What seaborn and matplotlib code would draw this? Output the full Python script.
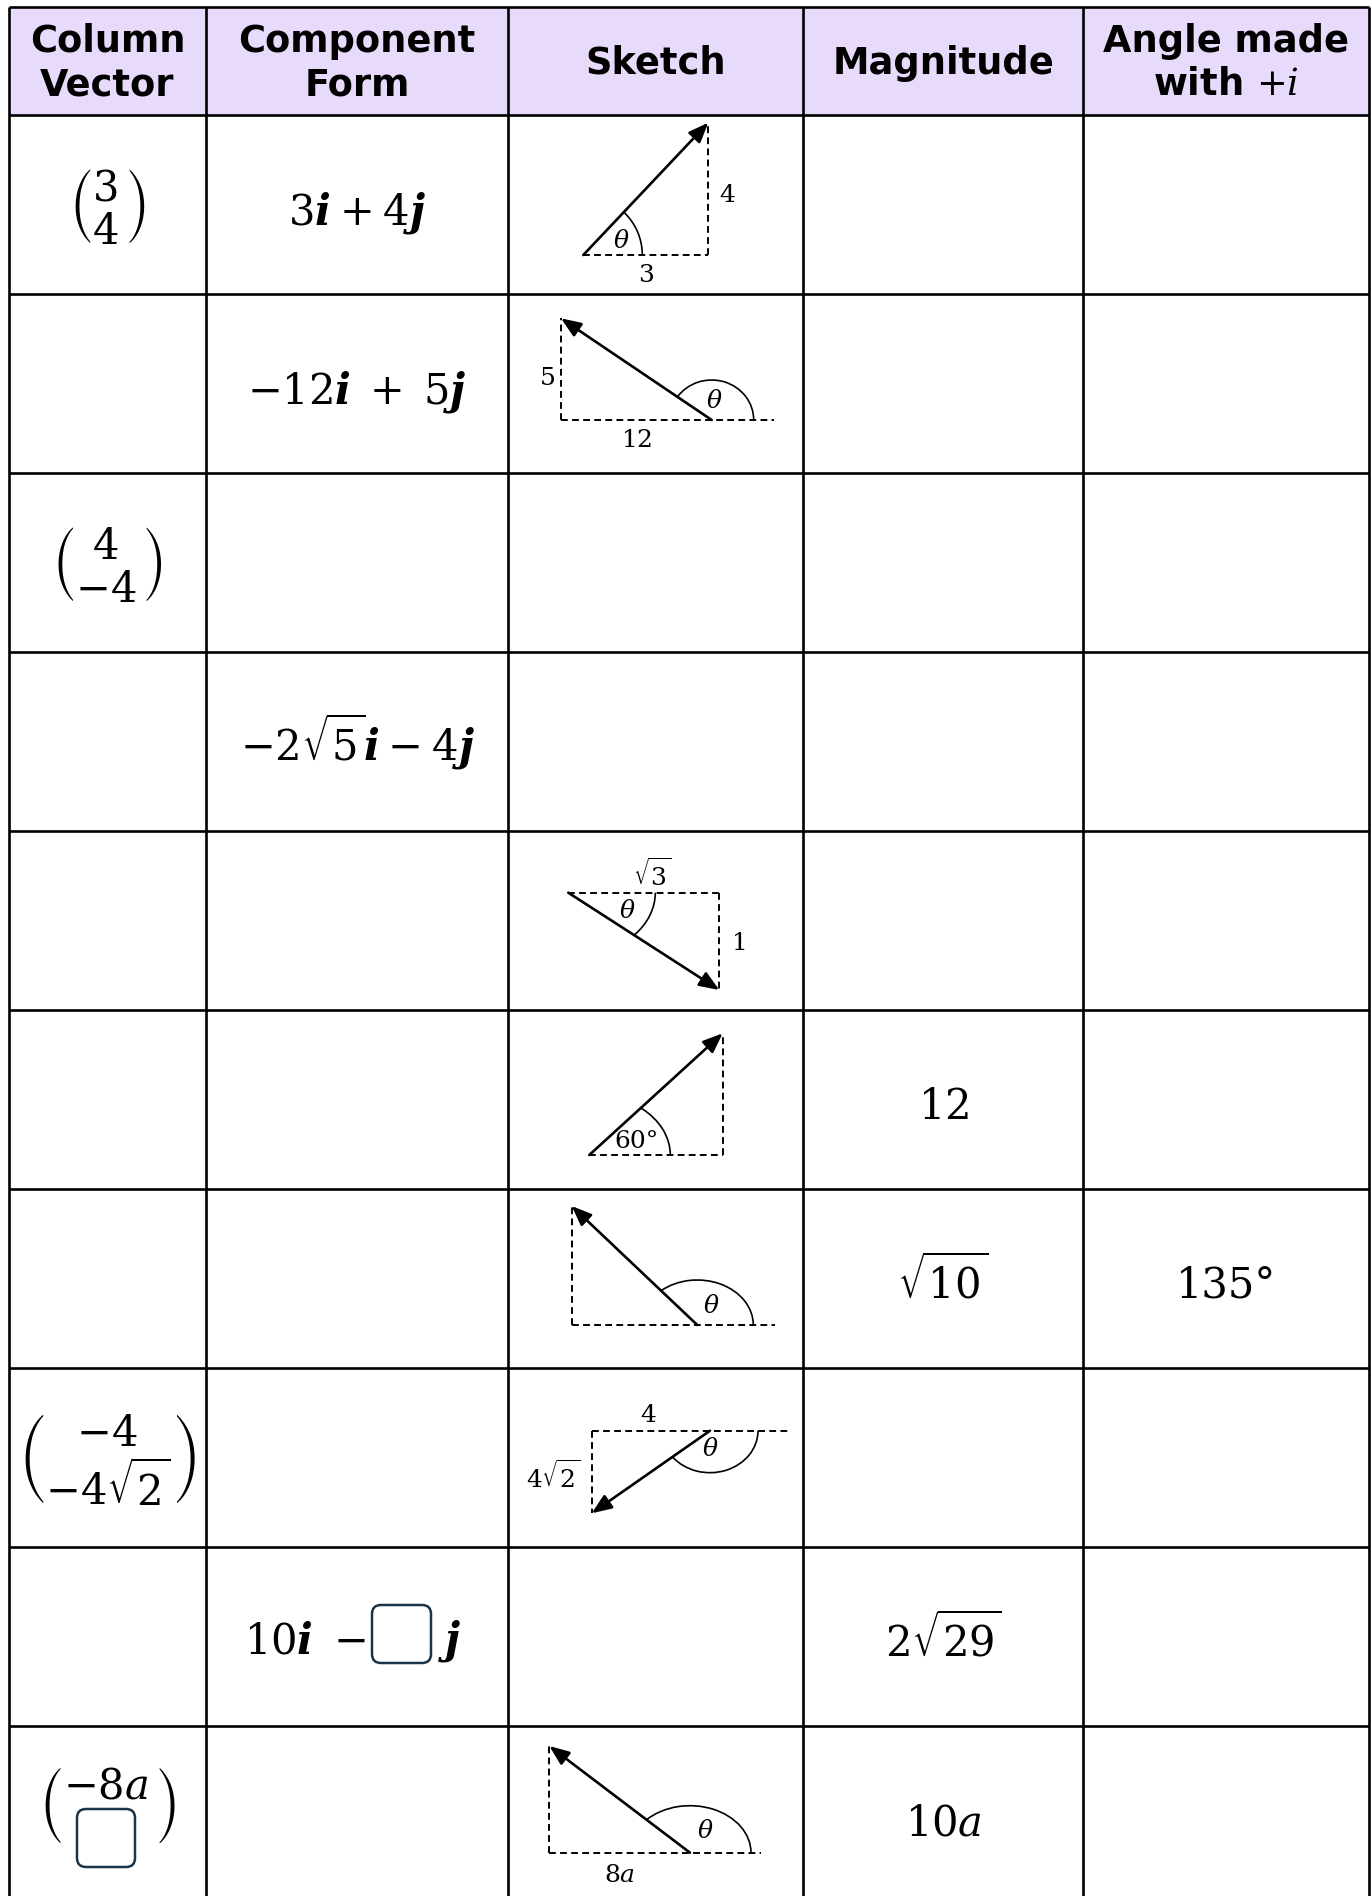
import matplotlib
matplotlib.use("Agg")
import numpy as np
import matplotlib.pyplot as plt
import seaborn as sns
from matplotlib.patches import Arc, FancyBboxPatch, Rectangle

# table grid, in pixels of the 1372 x 1896 sheet
col_edges = [9, 206, 508, 803, 1083, 1369]
row_edges = [7, 115, 293.5, 472.5, 651.5, 830.5, 1009.5, 1188.5, 1367.5, 1546.5, 1725.5, 1904.5]

headers = ["Column\nVector", "Component\nForm", "Sketch", "Magnitude", "Angle made\nwith $+i$"]

column_vector = [r"$\genfrac{(}{)}{0}{0}{3}{4}$", "", r"$\genfrac{(}{)}{0}{0}{4}{-4}$", "", "", "", "",
                 r"$\genfrac{(}{)}{0}{0}{-4}{-4\sqrt{2}}$", "", r"$\genfrac{(}{)}{0}{0}{-8a}{8}$"]
component_form = [r"$3\mathbfit{i}\:+\:4\mathbfit{j}$", r"$-12\mathbfit{i}\;+\;5\mathbfit{j}$", "",
                  r"$-2\sqrt{5}\mathbfit{i}\:-\:4\mathbfit{j}$", "", "", "", "", "", ""]
magnitude = ["", "", "", "", "", "$12$", r"$\sqrt{10}$", "", r"$2\sqrt{29}$", "$10a$"]
angle_with_i = ["", "", "", "", "", "", "135°", "", "", ""]

# sketches: vector tail / tip inside the sketch cell (x from cell left, y down from cell top)
sketch_rows = [0, 1, 4, 5, 6, 7, 9]
sketch_tail = [(75.3, 140), (203.7, 126.5), (60.3, 62.2), (81.3, 145.5), (189.3, 136.5), (202, 63.2), (182, 127.2)]
sketch_tip = [(200.3, 7.7), (53, 24.8), (211.3, 159.5), (214.7, 23.8), (63.7, 17.5), (83.7, 145.8), (41.3, 20.5)]
sketch_ext = [0, 62, 0, 0, 78, 78, 71]
arc_rx = [59, 42, 87, 81, 56, 48, 61]
arc_ry = [59, 40, 65, 61, 45, 42, 47]
TH = r"$\theta$"
sketch_labels = [
    [("$4$", 219, 80), ("$3$", 138, 160), (TH, 113, 126)],
    [("$5$", 39, 84.5), ("$12$", 129, 146.5), (TH, 206, 108)],
    [(TH, 119, 81), (r"$\sqrt{3}$", 144, 44.5), ("$1$", 230, 113)],
    [("60°", 129, 132)],
    [(TH, 203, 118)],
    [(TH, 202, 82.5), ("$4$", 140, 47.5), (r"$4\sqrt{2}$", 45, 109)],
    [(TH, 197, 106), ("$8a$", 112, 149.5)],
]

sns.set_theme(style="white")
plt.rcParams["font.family"] = ["DejaVu Sans"]
plt.rcParams["mathtext.fontset"] = "dejavuserif"

fig = plt.figure(figsize=(13.72, 18.96), dpi=100)
ax = fig.add_axes([0, 0, 1, 1])
ax.set_xlim(0, 1372)
ax.set_ylim(1896, 0)
ax.set_aspect("equal")
ax.axis("off")

# header band and grid
ax.add_patch(Rectangle((col_edges[0], row_edges[0]), col_edges[-1] - col_edges[0],
                       row_edges[1] - row_edges[0], color="#E8DAFA", zorder=0))
ax.hlines(row_edges, col_edges[0], col_edges[-1], color="black", lw=1.9)
ax.vlines(col_edges, row_edges[0], row_edges[-1], color="black", lw=1.9)

col_mid = [(a + b) / 2 for a, b in zip(col_edges[:-1], col_edges[1:])]
row_mid = [(a + b) / 2 for a, b in zip(row_edges[1:-1], row_edges[2:])]

for x, h in zip(col_mid, headers):
    ax.text(x, (row_edges[0] + row_edges[1]) / 2 + 2, h, ha="center", va="center",
            fontsize=26.5, fontweight="bold", linespacing=1.22, color="black")

body = dict(fontsize=30, color="black", family="DejaVu Serif")
for i, y in enumerate(row_mid):
    if column_vector[i]:
        dy = -10 if i == 9 else 3
        ax.text(col_mid[0], y + dy, column_vector[i], ha="center", va="center", **body)
    if component_form[i]:
        ax.text(col_mid[1], y + 20, component_form[i], ha="center", va="baseline", **body)
    if magnitude[i]:
        ax.text(col_mid[3], y + 20, magnitude[i], ha="center", va="baseline", **body)
    if angle_with_i[i]:
        ax.text(col_mid[4], y + 20, angle_with_i[i], ha="center", va="baseline", **body)

# row 9: 10i - [ ] j
ax.text(366, 1653, r"$10\mathbfit{i}\ -$", ha="right", va="baseline", **body)
ax.text(438, 1653, r"$\mathbfit{j}$", ha="left", va="baseline", **body)
box_kw = dict(boxstyle="round,pad=0,rounding_size=9", fc="white", ec="#1C3445", lw=1.8, zorder=5)
ax.add_patch(FancyBboxPatch((372, 1605), 59, 58, **box_kw))
# row 10 blank entry in column vector
ax.add_patch(FancyBboxPatch((77, 1809), 58, 58, **box_kw))

# sketches
x0 = col_edges[2]
for k, r in enumerate(sketch_rows):
    y0 = row_edges[r + 1]
    tx, ty = x0 + sketch_tail[k][0], y0 + sketch_tail[k][1]
    px, py = x0 + sketch_tip[k][0], y0 + sketch_tip[k][1]
    hx = [min(tx, px), max(tx, px) + sketch_ext[k]]
    ax.plot(hx, [ty, ty], color="black", lw=1.4, ls=(0, (3.5, 2.2)))
    ax.plot([px, px], [ty, py], color="black", lw=1.4, ls=(0, (3.5, 2.2)))
    ax.annotate("", xy=(px, py), xytext=(tx, ty),
                arrowprops=dict(arrowstyle="-|>,head_length=0.75,head_width=0.3",
                                lw=1.9, color="black", shrinkA=0, shrinkB=0, mutation_scale=16))
    a = np.degrees(np.arctan2(py - ty, px - tx))
    ax.add_patch(Arc((tx, ty), 2 * arc_rx[k], 2 * arc_ry[k], theta1=min(a, 0), theta2=max(a, 0),
                     color="black", lw=1.2))
    for txt, lx, ly in sketch_labels[k]:
        ax.text(x0 + lx, y0 + ly, txt, ha="center", va="center", fontsize=18,
                family="DejaVu Serif", color="black")

fig.savefig("out.png", dpi=100, facecolor="white")
